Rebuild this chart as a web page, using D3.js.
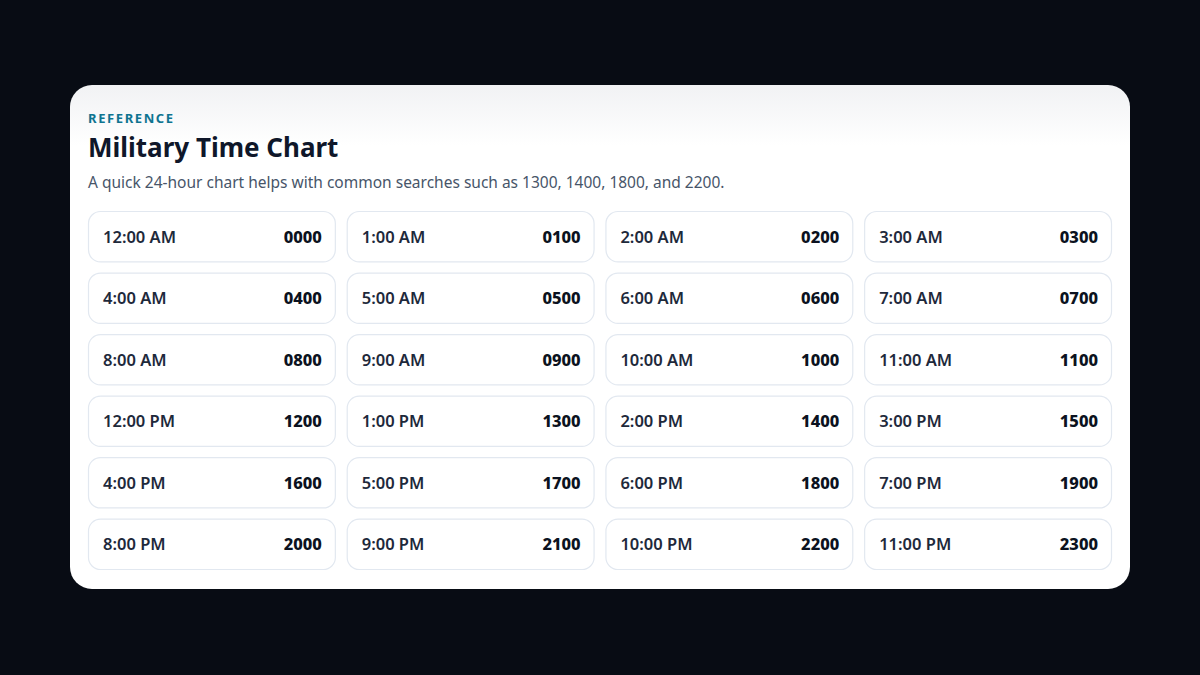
<!DOCTYPE html>
<html><head><meta charset="utf-8">
<script src="https://cdn.jsdelivr.net/npm/d3@7"></script>
<style>body{margin:0;background:#080c14;}svg{display:block;}</style>
</head><body><svg id="c" width="1200" height="675"></svg>
<script>
const civilianTimes = ["12:00 AM","1:00 AM","2:00 AM","3:00 AM","4:00 AM","5:00 AM","6:00 AM","7:00 AM","8:00 AM","9:00 AM","10:00 AM","11:00 AM","12:00 PM","1:00 PM","2:00 PM","3:00 PM","4:00 PM","5:00 PM","6:00 PM","7:00 PM","8:00 PM","9:00 PM","10:00 PM","11:00 PM"];
const militaryTimes = ["0000","0100","0200","0300","0400","0500","0600","0700","0800","0900","1000","1100","1200","1300","1400","1500","1600","1700","1800","1900","2000","2100","2200","2300"];
const eyebrow = "REFERENCE";
const title = "Military Time Chart";
const subtitle = "A quick 24-hour chart helps with common searches such as 1300, 1400, 1800, and 2200.";

const svg = d3.select("#c");
const F = "'Noto Sans', 'Open Sans', sans-serif";
const defs = svg.append("defs");
const g = defs.append("linearGradient").attr("id","bg").attr("x1",0).attr("y1",0).attr("x2",0).attr("y2",1);
g.append("stop").attr("offset","0").attr("stop-color","#f1f2f4");
g.append("stop").attr("offset","0.12").attr("stop-color","#ffffff");
g.append("stop").attr("offset","1").attr("stop-color","#ffffff");
svg.append("rect").attr("x",70).attr("y",85).attr("width",1060).attr("height",504).attr("rx",22).attr("fill","url(#bg)");

svg.append("text").attr("x",88).attr("y",123).attr("font-family",F).attr("font-size",13).attr("font-weight",700)
  .attr("letter-spacing",1.6).attr("fill","#0e7490").text(eyebrow);
svg.append("text").attr("x",88).attr("y",157).attr("font-family",F).attr("font-size",26).attr("font-weight",700)
  .attr("fill","#0f172a").text(title);
svg.append("text").attr("x",88).attr("y",188).attr("font-family",F).attr("font-size",15.5)
  .attr("fill","#475569").text(subtitle);

const cols = 4, rows = 6;
const x = d3.scaleBand().domain(d3.range(cols)).range([88,1112]).paddingInner(0.042);
const y = d3.scaleBand().domain(d3.range(rows)).range([211,570]).paddingInner(0.165);
const data = civilianTimes.map((c,i)=>({c, m: militaryTimes[i], col: i%cols, row: Math.floor(i/cols)}));
const cell = svg.selectAll("g.cell").data(data).join("g").attr("class","cell")
  .attr("transform", d=>`translate(${x(d.col)},${y(d.row)})`);
cell.append("rect").attr("x",0.5).attr("y",0.5).attr("width",x.bandwidth()-1).attr("height",y.bandwidth()-1)
  .attr("rx",12).attr("fill","#ffffff").attr("stroke","#e2e8f0").attr("stroke-width",1.2);
cell.append("text").attr("x",15).attr("y",y.bandwidth()/2+6).attr("font-family",F).attr("font-size",16.5)
  .attr("font-weight",600).attr("fill","#1e293b").text(d=>d.c);
cell.append("text").attr("x",x.bandwidth()-14).attr("y",y.bandwidth()/2+6).attr("text-anchor","end")
  .attr("font-family",F).attr("font-size",16.5).attr("font-weight",800).attr("fill","#0b1220").text(d=>d.m);
</script></body></html>
